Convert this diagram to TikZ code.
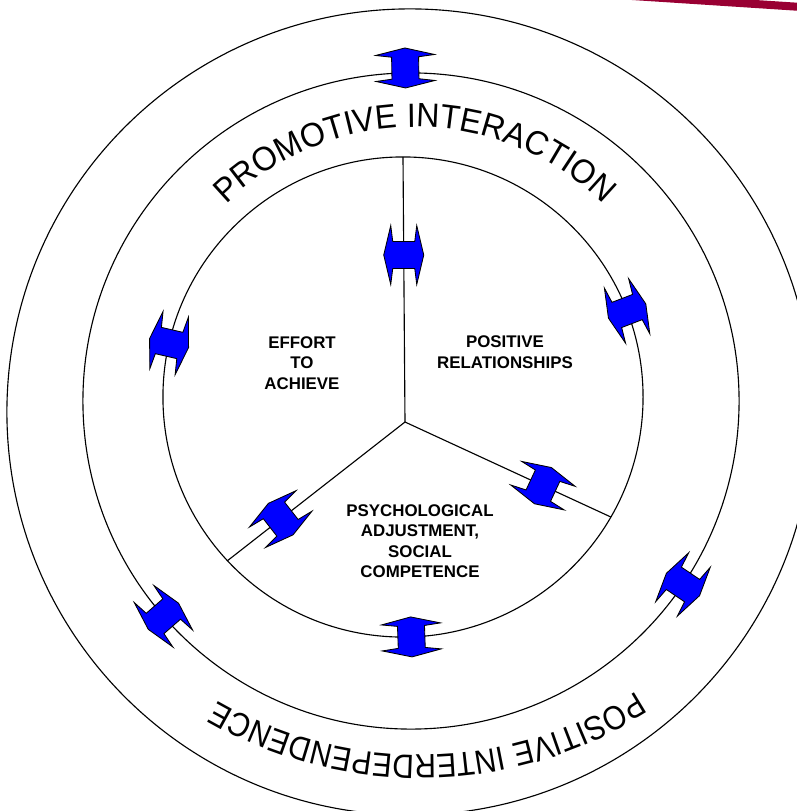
\documentclass[tikz,border=0pt]{standalone}
\usepackage{fontspec}
\setmainfont{Liberation Sans}
\newfontfamily\ringfont[FakeStretch=0.95]{Liberation Sans}
\newfontfamily\narrowfont[FakeStretch=0.88]{Liberation Sans}
\usetikzlibrary{calc,decorations.text}
\definecolor{bandred}{RGB}{153,0,51}
\definecolor{arrowblue}{RGB}{0,0,255}
\newcommand\bigtext{\ringfont\fontsize{24}{24}\selectfont}
\newcommand\bigtextn{\narrowfont\fontsize{24}{24}\selectfont}

\begin{document}
\begin{tikzpicture}[
x=0.025cm,y=0.025cm,
ring/.style={
draw,
circle,
line width=0.8pt,
outer sep=0pt,
inner sep=0pt
},
sector/.style={
font=\fontsize{12}{14.5}\selectfont\bfseries,
align=center
},
bothway/.pic={
\filldraw[fill=arrowblue, draw=black, line width=0.6pt, line join=miter]
(0,20) -- (29.5,13) -- (13.5,11) -- (13.5,-11) -- (29.5,-13) -- (0,-20)
-- (-29.5,-13) -- (-13.5,-11) -- (-13.5,11) -- (-29.5,13) -- cycle;
}
]
\clip (0,0) rectangle (797,-811);

% circles
\node[ring, minimum size=20.15cm] (outer) at (410,-412) {};
\node[ring, minimum size=16.4cm] (middle) at (411,-401) {};
\node[ring, minimum size=12cm] (inner) at (403,-397) {};

% spokes
\coordinate (hub) at (405,-422);
\draw[line width=0.8pt] (hub) -- (inner.90);
\draw[line width=0.8pt] (hub) -- (inner.-30);
\draw[line width=0.8pt] (hub) -- (inner.223);

% arrows
\pic[rotate=1] at ($(middle.91)+(0,5)$) {bothway};
\pic[rotate=131] at (middle.221) {bothway};
\pic[rotate=236] at (middle.326) {bothway};
\pic[rotate=-69] at (inner.21) {bothway};
\pic[rotate=77] at (inner.167) {bothway};
\pic[rotate=2] at (inner.272) {bothway};
\pic[rotate=90] at ($(hub)!0.63!(inner.90)$) {bothway};
\pic[rotate=-25] at ($(hub)!0.67!(inner.-30)$) {bothway};
\pic[rotate=218] at ($(hub)!0.70!(inner.223)$) {bothway};

% labels
\node[sector] (effort) at (302,-363) {EFFORT\\TO\\ACHIEVE};
\node[sector] (relations) at (505,-352) {POSITIVE\\RELATIONSHIPS};
\node[sector] (adjust) at (420,-541) {PSYCHOLOGICAL\\ADJUSTMENT,\\SOCIAL\\COMPETENCE};

% ring titles
\path[decorate, decoration={text along path, text align=center,
text={|\bigtext|PROMOTIVE INTERACTION}}]
(415,-396) ++(180:269) arc (180:0:269);
\path[decorate, decoration={text along path, text align=center,
text={|\bigtextn|POSITIVE INTERDEPENDENCE}}]
(420,-352) ++(1.2:403) arc (1.2:-178.8:403);

\draw[bandred, line width=5.7pt] (600,6.1) -- (820,-8.2);
\end{tikzpicture}
\end{document}
